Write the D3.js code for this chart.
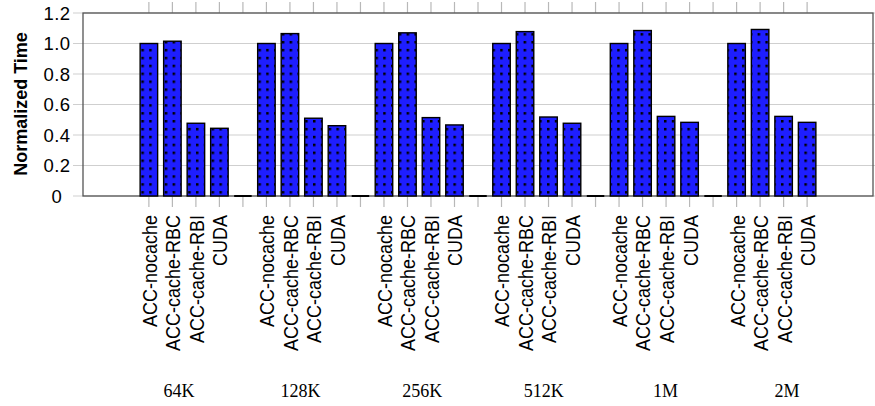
<html>
<head>
<meta charset="utf-8">
<title>Normalized Time</title>
<style type="text/css">
    body{ margin:0; background:#fff; }
    #chart text{ fill:#000; }
</style>
<script type="text/javascript" src="https://cdnjs.cloudflare.com/ajax/libs/d3/7.8.5/d3.min.js"></script>
</head>
<body>
<svg id="chart"></svg>
<script type="text/javascript">
// data
var groups = ["64K", "128K", "256K", "512K", "1M", "2M"];
var variants = ["ACC-nocache", "ACC-cache-RBC", "ACC-cache-RBI", "CUDA"];
var nocache  = [1.0, 1.0, 1.0, 1.0, 1.0, 1.0];
var cacheRBC = [1.015, 1.065, 1.07, 1.078, 1.085, 1.092];
var cacheRBI = [0.477, 0.51, 0.514, 0.518, 0.522, 0.522];
var cuda     = [0.444, 0.461, 0.466, 0.477, 0.483, 0.483];
var yTicks = [0, 0.2, 0.4, 0.6, 0.8, 1.0, 1.2];
var yTickLabels = ["0", "0.2", "0.4", "0.6", "0.8", "1.0", "1.2"];

var series = [nocache, cacheRBC, cacheRBI, cuda];

var width = 875, height = 406;
var plotL = 83, plotR = 873, plotT = 13, plotB = 196;

var svg = d3.select("#chart").attr("width", width).attr("height", height);

// one slot per bar, plus an empty slot (zero bar) between groups
var slots = [];
groups.forEach(function(g, gi){
    variants.forEach(function(v, vi){
        slots.push({key: g + "|" + v, label: v, value: series[vi][gi], sep: false});
    });
    if(gi < groups.length - 1) slots.push({key: "sep" + gi, label: "", value: 0, sep: true});
});

var x = d3.scaleBand().domain(slots.map(function(d){ return d.key; }))
    .range([plotL, plotR]).paddingInner(0.255).paddingOuter(2.43);
var y = d3.scaleLinear().domain([0, 1.2]).range([plotB, plotT]);
var gx = d3.scalePoint().domain(groups).range([179, 787]);

// dotted fill
var defs = svg.append("defs");
var pat = defs.append("pattern").attr("id", "dots").attr("patternUnits", "userSpaceOnUse")
    .attr("x", 1).attr("y", 1.5).attr("width", 7.8).attr("height", 7.9);
pat.append("rect").attr("width", 7.8).attr("height", 7.9).attr("fill", "#1e1eff");
pat.append("rect").attr("width", 2.5).attr("height", 2.5).attr("fill", "#000");

// gridlines + left tick stubs
svg.append("g").selectAll("line").data(yTicks).enter().append("line")
    .attr("x1", plotL - 10).attr("x2", plotR + 3)
    .attr("y1", function(d){ return y(d); }).attr("y2", function(d){ return y(d); })
    .attr("stroke", "#cfcfcf").attr("stroke-width", 1.2);

// x tick marks top and bottom
var cx = function(d){ return x(d.key) + x.bandwidth() / 2; };
var xt = svg.append("g").attr("stroke", "#b8b8b8").attr("stroke-width", 1.2);
xt.selectAll("line.t").data(slots).enter().append("line").attr("class", "t")
    .attr("x1", cx).attr("x2", cx).attr("y1", plotT - 11).attr("y2", plotT);
xt.selectAll("line.b").data(slots).enter().append("line").attr("class", "b")
    .attr("x1", cx).attr("x2", cx).attr("y1", plotB).attr("y2", plotB + 11);

// frame
svg.append("rect").attr("x", plotL).attr("y", plotT).attr("width", plotR - plotL).attr("height", plotB - plotT)
    .attr("fill", "none").attr("stroke", "#555").attr("stroke-width", 1.3);

// bars
svg.append("g").selectAll("rect").data(slots.filter(function(d){ return !d.sep; })).enter().append("rect")
    .attr("x", function(d){ return x(d.key); })
    .attr("y", function(d){ return y(d.value); })
    .attr("width", x.bandwidth())
    .attr("height", function(d){ return y(0) - y(d.value); })
    .attr("fill", "url(#dots)").attr("stroke", "#000").attr("stroke-width", 1.4);

// zero bars in the separator slots
svg.append("g").selectAll("line").data(slots.filter(function(d){ return d.sep; })).enter().append("line")
    .attr("x1", function(d){ return x(d.key); })
    .attr("x2", function(d){ return x(d.key) + x.bandwidth(); })
    .attr("y1", y(0)).attr("y2", y(0))
    .attr("stroke", "#000").attr("stroke-width", 2);

// y tick labels
svg.append("g").selectAll("text").data(yTicks).enter().append("text")
    .attr("x", 57).attr("y", function(d){ return y(d) + 6.5; })
    .attr("text-anchor", "middle")
    .style("font-family", "'Liberation Sans', Arial, sans-serif").style("font-size", "18.5px")
    .style("letter-spacing", "0.5px")
    .text(function(d, i){ return yTickLabels[i]; });

// y title
svg.append("text").attr("transform", "translate(27,104) rotate(-90)")
    .attr("text-anchor", "middle")
    .style("font-family", "'Liberation Sans', Arial, sans-serif").style("font-size", "18px")
    .style("font-weight", "bold")
    .text("Normalized Time");

// rotated bar labels
svg.append("g").selectAll("text").data(slots.filter(function(d){ return !d.sep; })).enter().append("text")
    .attr("transform", function(d){ return "translate(" + (cx(d) + 1) + ",215) rotate(-90) scale(1,1.1)"; })
    .attr("text-anchor", "end").attr("dy", "0.35em")
    .style("font-family", "'Liberation Sans', Arial, sans-serif").style("font-size", "18px")
    .text(function(d){ return d.label; });

// group labels
svg.append("g").selectAll("text").data(groups).enter().append("text")
    .attr("x", function(d){ return gx(d); }).attr("y", 397)
    .attr("text-anchor", "middle")
    .style("font-family", "'Liberation Serif', 'Times New Roman', serif").style("font-size", "18px")
    .text(function(d){ return d; });
</script>
</body>
</html>
